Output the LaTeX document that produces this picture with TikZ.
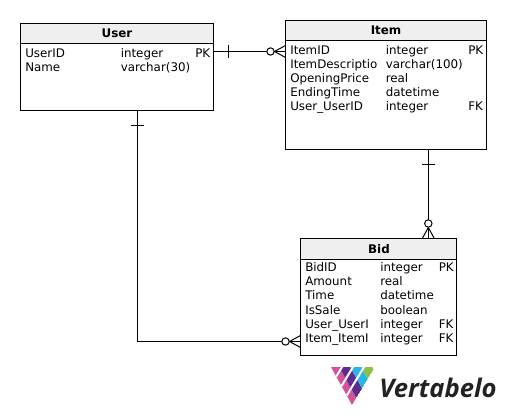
\documentclass[tikz,border=0pt]{standalone}
\usepackage{fontspec}
\setmainfont{DejaVu Sans}
\newfontfamily\logofont{Open Sans}
\usetikzlibrary{calc}
\definecolor{headfill}{HTML}{EFEFEF}
\definecolor{logopink}{HTML}{D2539B}
\definecolor{logopurple}{HTML}{5C2D91}
\definecolor{logoblue}{HTML}{29B5E8}
\definecolor{logogreen}{HTML}{8CC04B}
\definecolor{logotext}{HTML}{222222}
\tikzset{
  tablebox/.style={draw=black,line width=0.75pt,fill=white,anchor=north west,inner sep=0pt,outer sep=0pt},
  headbox/.style={draw=black,line width=0.75pt,fill=headfill,anchor=north west,inner sep=0pt,outer sep=0pt},
  title/.style={font=\fontsize{8.9}{10}\selectfont\bfseries},
  cell/.style={anchor=base west,inner sep=0pt},
  link/.style={line width=0.75pt},
}
\begin{document}
\begin{tikzpicture}[x=0.75pt,y=-0.75pt,every node/.style={font=\fontsize{8.9}{10}\selectfont}]
  \useasboundingbox (0,0) rectangle (506,416);
  % User
  \node[tablebox,minimum width=144.75pt,minimum height=64.9pt] (user) at (20.5,23.5) {};
  \node[headbox,minimum width=144.75pt,minimum height=15pt] (userhead) at (20.5,23.5) {};
  \node[title] (usertitle) at (117,33.5) {User};
  \node[cell] (u1) at (25,58) {UserID};
  \node[cell] (u2) at (25,72) {Name};
  \node[cell] (u3) at (120.5,58) {integer};
  \node[cell] (u4) at (120.5,72) {varchar(30)};
  \node[cell] (u5) at (195,58) {PK};
  % Item
  \node[tablebox,minimum width=150.75pt,minimum height=96.4pt] (item) at (285.5,20.5) {};
  \node[headbox,minimum width=150.75pt,minimum height=15pt] (itemhead) at (285.5,20.5) {};
  \node[title] (itemtitle) at (386,30.5) {Item};
  \node[cell] (i1) at (290,55) {ItemID};
  \node[cell] (i2) at (290,69) {ItemDescriptio};
  \node[cell] (i3) at (290,83) {OpeningPrice};
  \node[cell] (i4) at (290,97) {EndingTime};
  \node[cell] (i5) at (290,111) {User\_UserID};
  \node[cell] (i6) at (385.5,55) {integer};
  \node[cell] (i7) at (385.5,69) {varchar(100)};
  \node[cell] (i8) at (385.5,83) {real};
  \node[cell] (i9) at (385.5,97) {datetime};
  \node[cell] (i10) at (385.5,111) {integer};
  \node[cell] (i11) at (468,55) {PK};
  \node[cell] (i12) at (468,111) {FK};
  % Bid
  \node[tablebox,minimum width=117pt,minimum height=87.4pt] (bid) at (300.5,238.5) {};
  \node[headbox,minimum width=117pt,minimum height=15.4pt] (bidhead) at (300.5,238.5) {};
  \node[title] (bidtitle) at (379,249) {Bid};
  \foreach \nm/\yy/\lab/\typ in {b1/272/BidID/integer,b2/286/Amount/real,b3/300/Time/datetime,b4/314/IsSale/boolean,b5/328/User\_UserI/integer,b6/342/Item\_ItemI/integer} {
    \node[cell] (\nm) at (305,\yy) {\lab};
    \node[cell] (\nm t) at (380,\yy) {\typ};
  }
  \node[cell] (b7) at (438.5,272) {PK};
  \node[cell] (b8) at (438.5,328) {FK};
  \node[cell] (b9) at (438.5,342) {FK};
  % links
  \coordinate (ustart) at (user.north east |- 0,51.5);
  \coordinate (uend) at (item.north west |- 0,51.5);
  \coordinate (dstart) at (user.south -| 137.5,0);
  \coordinate (dcorner) at (137.5,341.5);
  \coordinate (dend) at (bid.north west |- 0,341.5);
  \coordinate (bstart) at (item.south -| 428.3,0);
  \coordinate (bend) at (bid.north -| 428.3,0);
  \draw[link] (ustart) -- (uend);
  \draw[link] (dstart) -- (dcorner) -- (dend);
  \draw[link] (bstart) -- (bend);
  % one-bars
  \draw[link] ($(ustart)+(15,-6.5)$) -- ($(ustart)+(15,6.5)$);
  \draw[link] ($(dstart)+(-6.5,15)$) -- ($(dstart)+(6.5,15)$);
  \draw[link] ($(bstart)+(-6.5,15)$) -- ($(bstart)+(6.5,15)$);
  % crow's feet
  \foreach \e/\dx/\dy in {uend/-1/0,dend/-1/0,bend/0/-1} {
    \draw[link] ($(\e)+(\dx*11,\dy*11)$) -- ($(\e)+(\dy*6,\dx*6)$);
    \draw[link] ($(\e)+(\dx*11,\dy*11)$) -- ($(\e)+(-\dy*6,-\dx*6)$);
    \draw[link,fill=white] ($(\e)+(\dx*15,\dy*15)$) circle (3.7);
  }
  % logo
  \begin{scope}[shift={(331,367)},x={(4.3125pt,7.125pt)},y={(3.9375pt,-7.125pt)}]
    \clip (0,0) -- (4,4) -- (0,4) -- cycle;
    \foreach \a/\col in {0/logopink,1/logopurple,2/logoblue,3/logogreen}
      \fill[\col] (\a-0.25,0) -- (\a+0.75,0) -- (\a+0.75,4) -- (\a-0.25,4) -- cycle;
    \foreach \b in {1,2,3}
      \draw[white,line width=1.5pt] (0,\b) -- (4,\b);
  \end{scope}
  \node[anchor=base west,inner sep=0pt,text=logotext,font=\fontsize{19.2}{20}\logofont\itshape\bfseries] (logo) at (379,397) {Vertabelo};
\end{tikzpicture}
\end{document}
